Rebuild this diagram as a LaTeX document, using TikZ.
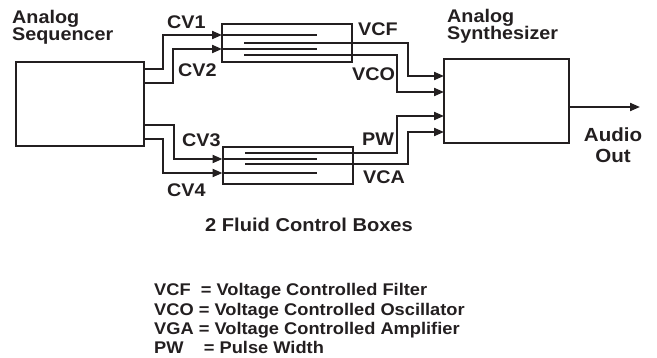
\documentclass[tikz,border=0pt]{standalone}
\usepackage{fontspec}
\setmainfont{Liberation Sans}[FakeStretch=1.08]
\usetikzlibrary{arrows.meta}
\definecolor{ink}{RGB}{35,31,32}
\begin{document}
\begin{tikzpicture}[x=1pt,y=-1pt,
  box/.style={draw=ink, line width=2pt, inner sep=0pt, outer sep=0pt},
  wire/.style={draw=ink, line width=2pt},
  arr/.style={wire, -{Triangle[length=10pt,width=8pt]}},
  lbl/.style={text=ink, font=\fontsize{18.3}{21}\selectfont\bfseries, inner sep=0pt, anchor=base west},
  legend/.style={lbl, font=\fontsize{16.9}{19}\selectfont\bfseries},
]
\useasboundingbox (0,0) rectangle (657,358);
% boxes
\node[box, minimum width=128pt, minimum height=84pt] (seq) at (80,104) {};
\node[box, minimum width=130pt, minimum height=38pt] (fa) at (287,43) {};
\node[box, minimum width=130pt, minimum height=37pt] (fb) at (287.5,165.5) {};
\node[box, minimum width=125pt, minimum height=84pt] (syn) at (506.5,101) {};
% row coordinates
\coordinate (s1) at (0,69);  \coordinate (s2) at (0,83);
\coordinate (s3) at (0,125); \coordinate (s4) at (0,139);
\coordinate (a1) at (0,35);  \coordinate (a2) at (0,43);
\coordinate (a3) at (0,49);  \coordinate (a4) at (0,55);
\coordinate (b1) at (0,153); \coordinate (b2) at (0,159);
\coordinate (b3) at (0,164); \coordinate (b4) at (0,173);
\coordinate (i1) at (0,76);  \coordinate (i2) at (0,92);
\coordinate (i3) at (0,116); \coordinate (i4) at (0,132);
\coordinate (out) at (640,107);
% sequencer to fluid boxes
\draw[arr] (seq.east |- s1) -- (163,69) |- (fa.west |- a1);
\draw[arr] (seq.east |- s2) -- (173,83) |- (fa.west |- a3);
\draw[arr] (seq.east |- s3) -- (174,125) |- (fb.west |- b2);
\draw[arr] (seq.east |- s4) -- (163,139) |- (fb.west |- b4);
% inner lines of fluid boxes
\draw[wire] (fa.west |- a1) -- (317,35);
\draw[wire] (fa.west |- a3) -- (317,49);
\draw[wire] (fb.west |- b2) -- (317,159);
\draw[wire] (fb.west |- b4) -- (317,173);
% fluid boxes to synthesizer
\draw[arr] (244,43) -- (408,43) |- (syn.west |- i1);
\draw[arr] (244,55) -- (397,55) |- (syn.west |- i2);
\draw[arr] (245,153) -- (397,153) |- (syn.west |- i3);
\draw[arr] (245,164) -- (408,164) |- (syn.west |- i4);
% output
\draw[arr] (syn.east |- out) -- (out);
% labels
\node[lbl] (lseq1) at (12,24) {Analog};
\node[lbl] (lseq2) at (12,41) {Sequencer};
\node[lbl] (lsyn1) at (447,23) {Analog};
\node[lbl] (lsyn2) at (447,40) {Synthesizer};
\node[lbl] (lcv1) at (167,29) {CV1};
\node[lbl] (lcv2) at (178,77) {CV2};
\node[lbl] (lcv3) at (182,147) {CV3};
\node[lbl] (lcv4) at (167,197) {CV4};
\node[lbl] (lvcf) at (358,36) {VCF};
\node[lbl] (lvco) at (352,81) {VCO};
\node[lbl] (lpw) at (362,146) {PW};
\node[lbl] (lvca) at (363,184) {VCA};
\node[lbl, anchor=base, font=\fontsize{19}{22}\selectfont\bfseries] (laud1) at (613,142) {Audio};
\node[lbl, anchor=base, font=\fontsize{19}{22}\selectfont\bfseries] (laud2) at (613,163) {Out};
\node[lbl, font=\fontsize{18.6}{21}\selectfont\bfseries] (ltitle) at (205,232) {2 Fluid Control Boxes};
% legend
\node[legend] (lg1) at (154,296) {VCF\ \ = Voltage Controlled Filter};
\node[legend] (lg2) at (154,316) {VCO = Voltage Controlled Oscillator};
\node[legend] (lg3) at (154,335) {VGA = Voltage Controlled Amplifier};
\node[legend] (lg4) at (154,354) {PW\ \ \ \ = Pulse Width};
\end{tikzpicture}
\end{document}
